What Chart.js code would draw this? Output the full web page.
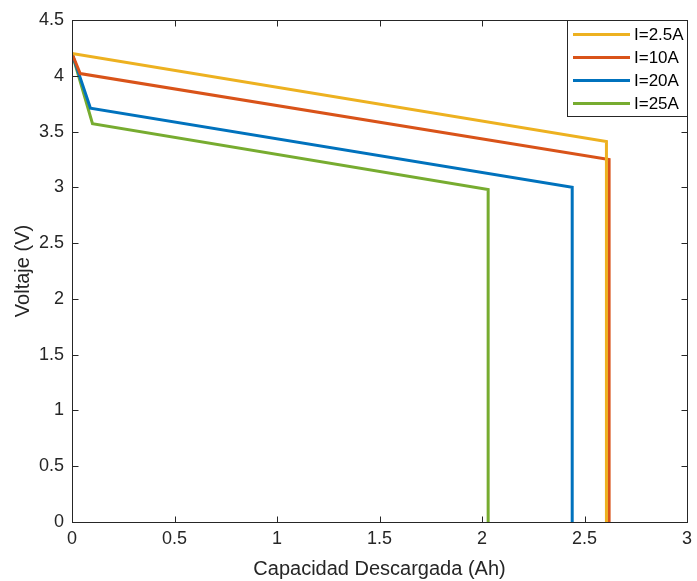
<!DOCTYPE html>
<html>
<head>
<meta charset="utf-8">
<script src="https://cdn.jsdelivr.net/npm/chart.js@4/dist/chart.umd.min.js"></script>
<style>
	html, body { margin: 0; padding: 0; background: #fff; }
	canvas { display: block; }
</style>
</head>
<body>
<canvas id="chart-1" width="697" height="581"></canvas>
<script>
// series data (Capacidad Descargada in Ah, Voltaje in V)
var labels = ['I=2.5A', 'I=10A', 'I=20A', 'I=25A'];
var cap25 = [0, 2.607, 2.607];
var volt25 = [4.2, 3.41, 0];
var cap10 = [0, 0.04, 2.62, 2.62];
var volt10 = [4.2, 4.02, 3.25, 0];
var cap20 = [0, 0.09, 2.44, 2.44];
var volt20 = [4.2, 3.71, 3.0, 0];
var cap25A = [0, 0.10, 2.03, 2.03];
var volt25A = [4.2, 3.57, 2.98, 0];
var xTicks = [0, 0.5, 1, 1.5, 2, 2.5, 3];
var yTicks = [0, 0.5, 1, 1.5, 2, 2.5, 3, 3.5, 4, 4.5];

var colors = ['#EDB120', '#D95319', '#0072BD', '#77AC30'];
var axisColor = '#262626';
var fontFamily = '"Liberation Sans", Arial, sans-serif';

function toPoints(xs, ys){
	var pts = [];
	for(var i = 0; i < xs.length; i++){
		pts.push({x: xs[i], y: ys[i]});
	}
	return pts;
}

var series = [toPoints(cap25, volt25), toPoints(cap10, volt10), toPoints(cap20, volt20), toPoints(cap25A, volt25A)];

var datasets = series.map(function(pts, i){
	return {
		label: labels[i],
		data: pts,
		showLine: true,
		borderColor: colors[i],
		backgroundColor: colors[i],
		borderWidth: 3,
		pointRadius: 0,
		tension: 0,
		borderJoinStyle: 'miter'
	};
});

// axes box with inward ticks on all four sides, like matlab
var boxPlugin = {
	id: 'box',
	afterDatasetsDraw: function(chart){
		var ctx = chart.ctx, a = chart.chartArea;
		var xs = chart.scales.x, ys = chart.scales.y;
		var L = Math.round(a.left) + 0.5, R = Math.round(a.right) + 0.5;
		var T = Math.round(a.top) + 0.5, B = Math.round(a.bottom) + 0.5;
		ctx.save();
		ctx.strokeStyle = axisColor;
		ctx.lineWidth = 1;
		ctx.strokeRect(L, T, R - L, B - T);
		ctx.beginPath();
		xTicks.forEach(function(v){
			var px = Math.round(xs.getPixelForValue(v)) + 0.5;
			ctx.moveTo(px, B); ctx.lineTo(px, B - 6);
			ctx.moveTo(px, T); ctx.lineTo(px, T + 6);
		});
		yTicks.forEach(function(v){
			var py = Math.round(ys.getPixelForValue(v)) + 0.5;
			ctx.moveTo(L, py); ctx.lineTo(L + 6, py);
			ctx.moveTo(R, py); ctx.lineTo(R - 6, py);
		});
		ctx.stroke();
		ctx.restore();
	}
};

// matlab style legend box in the upper right corner
var legendPlugin = {
	id: 'matlabLegend',
	afterDraw: function(chart){
		var ctx = chart.ctx, a = chart.chartArea;
		var left = 567.5, top = Math.round(a.top) + 0.5, right = Math.round(a.right) + 0.5;
		var rowH = 23, h = 96;
		ctx.save();
		ctx.fillStyle = '#fff';
		ctx.fillRect(left, top, right - left, h);
		ctx.strokeStyle = axisColor;
		ctx.lineWidth = 1;
		ctx.strokeRect(left, top, right - left, h);
		ctx.font = '17px ' + fontFamily;
		ctx.textBaseline = 'middle';
		chart.data.datasets.forEach(function(ds, i){
			var y = top + 14 + i * rowH;
			ctx.strokeStyle = ds.borderColor;
			ctx.lineWidth = 3;
			ctx.beginPath();
			ctx.moveTo(573, y);
			ctx.lineTo(630, y);
			ctx.stroke();
			ctx.fillStyle = '#000';
			ctx.fillText(ds.label, 634, y + 1);
		});
		ctx.restore();
	}
};

var ctx = document.getElementById('chart-1');
var chart = new Chart(ctx, {
	type: 'scatter',
	data: { datasets: datasets },
	plugins: [boxPlugin, legendPlugin],
	options: {
		responsive: false,
		animation: false,
		layout: { padding: { top: 20, right: 10, left: 0, bottom: 0 } },
		plugins: {
			legend: { display: false },
			tooltip: { enabled: false }
		},
		scales: {
			x: {
				type: 'linear',
				min: 0,
				max: 3,
				afterFit: function(s){
					s.height = 59;
					s.paddingLeft = 0;
					s.paddingRight = 0;
				},
				afterBuildTicks: function(s){
					s.ticks = xTicks.map(function(v){ return {value: v}; });
				},
				grid: { display: false, drawTicks: false },
				border: { display: false },
				ticks: {
					padding: 6,
					color: axisColor,
					font: { family: fontFamily, size: 18 },
					maxRotation: 0,
					callback: function(v){ return String(v); }
				},
				title: {
					display: true,
					text: 'Capacidad Descargada (Ah)',
					color: axisColor,
					font: { family: fontFamily, size: 20 },
					padding: { top: 0, bottom: 0 }
				}
			},
			y: {
				type: 'linear',
				min: 0,
				max: 4.5,
				afterFit: function(s){
					s.width = 72;
					s.paddingTop = 0;
					s.paddingBottom = 0;
				},
				afterBuildTicks: function(s){
					s.ticks = yTicks.map(function(v){ return {value: v}; });
				},
				grid: { display: false, drawTicks: false },
				border: { display: false },
				ticks: {
					padding: 8,
					color: axisColor,
					font: { family: fontFamily, size: 18 },
					callback: function(v){ return String(v); }
				},
				title: {
					display: true,
					text: 'Voltaje (V)',
					color: axisColor,
					font: { family: fontFamily, size: 20 },
					padding: { top: 11, bottom: 0 }
				}
			}
		}
	}
});
</script>
</body>
</html>
